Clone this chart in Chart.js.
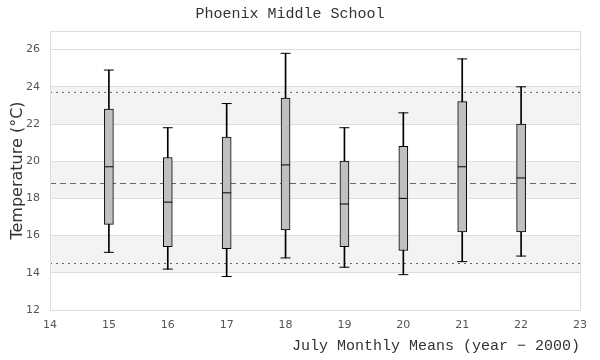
<!DOCTYPE html>
<html>
<head>
<meta charset="utf-8">
<script src="https://cdn.jsdelivr.net/npm/chart.js@4"></script>
<style>
  body { margin: 0; background: #fff; }
</style>
</head>
<body>
<canvas id="boxChart" width="600" height="360"></canvas>
<script>
// July monthly means, one box per year (year - 2000)
const years = [15, 16, 17, 18, 19, 20, 21, 22];
const whiskerLow = [15.1, 14.2, 13.8, 14.8, 14.3, 13.9, 14.6, 14.9];
const q1 = [16.6, 15.4, 15.3, 16.3, 15.4, 15.2, 16.2, 16.2];
const median = [19.7, 17.8, 18.3, 19.8, 17.7, 18.0, 19.7, 19.1];
const q3 = [22.8, 20.2, 21.3, 23.4, 20.0, 20.8, 23.2, 22.0];
const whiskerHigh = [24.9, 21.8, 23.1, 25.8, 21.8, 22.6, 25.5, 24.0];

// overall mean and control limits
const meanLine = 18.8;
const upperLimit = 23.7;
const lowerLimit = 14.5;

const xRange = [14, 23];
const yRange = [12, 27];

const pts = (vals) => years.map((x, i) => ({ x: x, y: vals[i] }));
const span = (lo, hi) => years.map((x, i) => ({ x: x, y: [lo[i], hi[i]] }));
const hline = (v) => [{ x: xRange[0], y: v }, { x: xRange[1], y: v }];

// light bands between every other gridline, under the grid
const bandPlugin = {
    id: 'bands',
    beforeDraw(chart) {
        const { ctx, chartArea, scales: { y } } = chart;
        const ticks = y.ticks;
        ctx.save();
        ctx.fillStyle = '#f3f3f3';
        for (let i = 1; i + 1 < ticks.length; i += 2) {
            const top = y.getPixelForValue(ticks[i + 1].value);
            const bot = y.getPixelForValue(ticks[i].value);
            ctx.fillRect(chartArea.left, top, chartArea.right - chartArea.left, bot - top);
        }
        ctx.restore();
    },
    afterDraw(chart) {
        const { ctx, chartArea } = chart;
        ctx.save();
        ctx.strokeStyle = '#dddddd';
        ctx.lineWidth = 1;
        ctx.strokeRect(Math.round(chartArea.left) + 0.5, Math.round(chartArea.top) + 0.5,
            Math.round(chartArea.right - chartArea.left), Math.round(chartArea.bottom - chartArea.top));
        ctx.restore();
    }
};

new Chart('boxChart', {
    data: {
        datasets: [
            {
                type: 'bar',
                data: span(whiskerLow, whiskerHigh),
                backgroundColor: '#000',
                borderWidth: 0,
                barThickness: 1,
                grouped: false,
                order: 4
            },
            {
                type: 'bar',
                data: span(q1, q3),
                backgroundColor: '#c0c0c0',
                borderColor: '#000',
                borderWidth: 1,
                borderSkipped: false,
                barThickness: 9,
                grouped: false,
                order: 3
            },
            {
                type: 'scatter',
                data: pts(median),
                pointStyle: 'line',
                pointRadius: 4.5,
                borderColor: '#000',
                borderWidth: 1,
                order: 1
            },
            {
                type: 'scatter',
                data: pts(whiskerLow).concat(pts(whiskerHigh)),
                pointStyle: 'line',
                pointRadius: 5,
                borderColor: '#000',
                borderWidth: 1,
                order: 1
            },
            {
                type: 'line',
                data: hline(upperLimit),
                borderColor: '#666',
                borderWidth: 1,
                borderDash: [2, 4],
                pointRadius: 0,
                order: 5
            },
            {
                type: 'line',
                data: hline(lowerLimit),
                borderColor: '#666',
                borderWidth: 1,
                borderDash: [2, 4],
                pointRadius: 0,
                order: 5
            },
            {
                type: 'line',
                data: hline(meanLine),
                borderColor: '#666',
                borderWidth: 1,
                borderDash: [6, 4],
                pointRadius: 0,
                order: 5
            }
        ]
    },
    options: {
        responsive: false,
        animation: false,
        layout: { padding: { left: 0, right: 20, top: 0, bottom: 0 } },
        plugins: {
            legend: { display: false },
            tooltip: { enabled: false },
            title: {
                display: true,
                text: 'Phoenix Middle School',
                color: '#333',
                font: { family: 'Liberation Mono', size: 15, weight: 'normal' },
                padding: { top: 5, bottom: 8 }
            }
        },
        scales: {
            x: {
                type: 'linear',
                offset: false,
                min: xRange[0],
                max: xRange[1],
                ticks: {
                    stepSize: 1,
                    color: '#555',
                    padding: 9,
                    font: { family: 'DejaVu Sans', size: 11 }
                },
                grid: { display: false, drawTicks: false, offset: false },
                border: { display: false },
                title: {
                    display: true,
                    text: 'July Monthly Means (year \u2212 2000)',
                    align: 'end',
                    color: '#333',
                    font: { family: 'Liberation Mono', size: 15 },
                    padding: { top: 6, bottom: 5 }
                },
                afterFit(scale) { scale.height = 50; }
            },
            y: {
                type: 'linear',
                min: yRange[0],
                max: yRange[1],
                afterBuildTicks(scale) {
                    scale.ticks = scale.ticks.filter(t => t.value % 2 === 0);
                },
                ticks: {
                    stepSize: 2,
                    color: '#555',
                    padding: 10,
                    font: { family: 'DejaVu Sans', size: 11 }
                },
                grid: { color: '#dddddd', drawTicks: false },
                border: { display: false },
                title: {
                    display: true,
                    text: 'Temperature (°C)',
                    color: '#333',
                    font: { family: 'DejaVu Sans', size: 16 },
                    padding: { top: 8, bottom: 0 }
                },
                afterFit(scale) { scale.width = 50; }
            }
        }
    },
    plugins: [bandPlugin]
});
</script>
</body>
</html>
